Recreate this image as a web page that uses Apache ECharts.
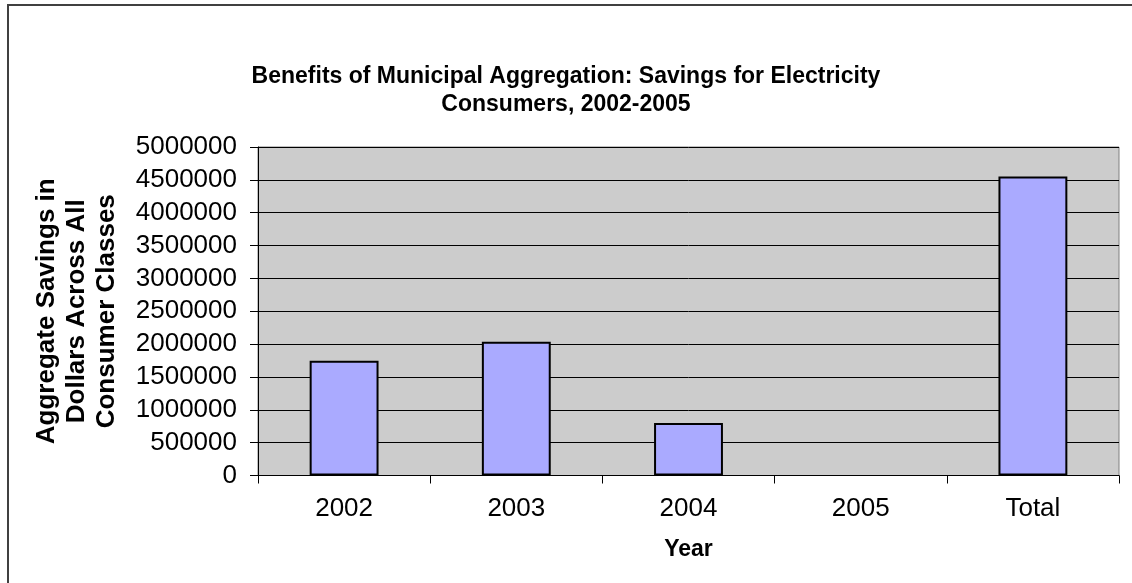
<!DOCTYPE html>
<html>
<head>
<meta charset="utf-8">
<script src="https://cdn.jsdelivr.net/npm/echarts@6/dist/echarts.min.js"></script>
<style>
html,body{margin:0;padding:0;background:#fff;}
#chart{width:1132px;height:583px;}
</style>
</head>
<body>
<div id="chart"></div>
<script>
const categories = ['2002', '2003', '2004', '2005', 'Total'];
const savings = [1745000, 2035000, 800000, null, 4550000];
const yTicks = { min: 0, max: 5000000, interval: 500000 };
const titleText = 'Benefits of Municipal Aggregation: Savings for Electricity\nConsumers, 2002-2005';
const yName = 'Aggregate Savings in\nDollars Across All\nConsumer Classes';
const xName = 'Year';

const FONT = '"Liberation Sans", Arial, sans-serif';
const chart = echarts.init(document.getElementById('chart'));
chart.setOption({
  animation: false,
  backgroundColor: '#ffffff',
  graphic: [{
    type: 'rect', silent: true, z: -10,
    shape: { x: 8, y: 5, width: 1200, height: 700 },
    style: { fill: 'none', stroke: '#404040', lineWidth: 2 }
  }],
  title: {
    text: titleText,
    left: 'center',
    top: 58,
    textStyle: { fontFamily: FONT, fontWeight: 'bold', fontSize: 23, lineHeight: 28, color: '#000' }
  },
  grid: {
    left: 258, right: 13, top: 147, bottom: 107.5,
    show: true, backgroundColor: '#cccccc', borderColor: '#808080', borderWidth: 1
  },
  xAxis: {
    type: 'category',
    data: categories,
    name: xName,
    nameLocation: 'middle',
    nameGap: 63,
    nameTextStyle: { fontFamily: FONT, fontWeight: 'bold', fontSize: 23, color: '#000' },
    axisLine: { show: true, lineStyle: { color: '#000', width: 1 } },
    axisTick: { show: true, length: 8, alignWithLabel: false, lineStyle: { color: '#000' } },
    axisLabel: { fontFamily: FONT, fontSize: 26, color: '#000', margin: 20 },
    splitLine: { show: false }
  },
  yAxis: {
    type: 'value',
    min: yTicks.min, max: yTicks.max, interval: yTicks.interval,
    name: yName,
    nameLocation: 'middle',
    nameRotate: 90,
    nameGap: 136,
    nameTextStyle: { fontFamily: FONT, fontWeight: 'bold', fontSize: 26, lineHeight: 30, color: '#000', align: 'center' },
    axisLine: { show: true, lineStyle: { color: '#000', width: 1 } },
    axisTick: { show: true, length: 8, lineStyle: { color: '#000' } },
    axisLabel: { fontFamily: FONT, fontSize: 26, color: '#000', margin: 21, formatter: function (v) { return String(v); } },
    splitLine: { show: true, lineStyle: { color: '#000', width: 1 } }
  },
  series: [{
    type: 'bar',
    data: savings,
    barWidth: '40%',
    itemStyle: { color: '#aaaaff', borderColor: '#000', borderWidth: 2 }
  }]
});
</script>
</body>
</html>
